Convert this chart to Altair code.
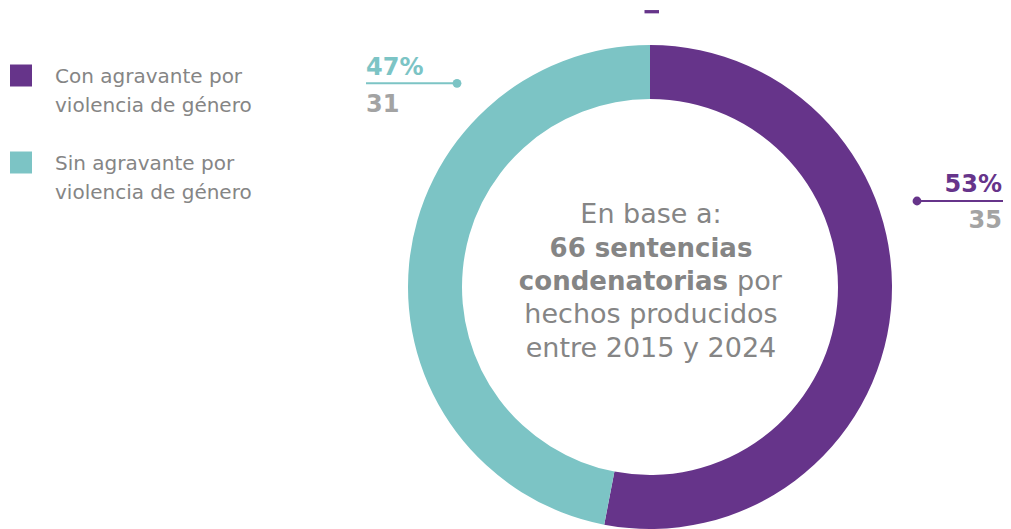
import altair as alt
import pandas as pd

# ---- data ----
categories = ["Con agravante por violencia de género", "Sin agravante por violencia de género"]
legend_labels = ["Con agravante por\nviolencia de género", "Sin agravante por\nviolencia de género"]
counts = [35, 31]
percent_labels = ["53%", "47%"]
colors = ["#66348a", "#7cc4c5"]
center_lines = ["En base a:", "66 sentencias", "condenatorias", "por",
                "hechos producidos", "entre 2015 y 2024"]

FONT = "DejaVu Sans"
GRAY = "#858585"
LIGHT = "#a3a3a3"
W, H = 995, 521
CX, CY = 642, 279

df = pd.DataFrame({"cat": categories, "count": counts, "order": [0, 1]})
color_scale = alt.Scale(domain=categories, range=colors)

donut = alt.Chart(df).mark_arc(outerRadius=242, innerRadius=188, stroke=None).encode(
    theta=alt.Theta("count:Q", stack=True),
    color=alt.Color("cat:N", scale=color_scale, legend=None),
    order=alt.Order("order:Q"),
    x=alt.value(CX),
    y=alt.value(CY),
)

# ---- legend (manual) ----
leg = pd.DataFrame({"cat": categories, "label": legend_labels, "row": [0, 1]})
ly = alt.Y("row:Q", scale=alt.Scale(domain=[0, 1], range=[67.5, 154.5], nice=False, zero=False), axis=None)
leg_sq = alt.Chart(leg).mark_square(size=484, opacity=1).encode(
    x=alt.value(13), y=ly,
    color=alt.Color("cat:N", scale=color_scale, legend=None),
)
leg_tx = alt.Chart(leg).mark_text(
    align="left", baseline="alphabetic", dy=7.5, fontSize=20, lineHeight=29,
    font=FONT, color=GRAY, lineBreak="\n",
).encode(x=alt.value(47), y=ly, text="label:N")

one = pd.DataFrame({"a": [0]})

def txt(s, x, y, size, weight="normal", color=GRAY, align="center"):
    return alt.Chart(one).mark_text(
        text=s, align=align, baseline="alphabetic", fontSize=size,
        fontWeight=weight, font=FONT, color=color,
    ).encode(x=alt.value(x), y=alt.value(y))

center = [
    txt(center_lines[0], 643, 215.3, 27),
    txt(center_lines[1], 643, 248.7, 26, "bold"),
    txt(center_lines[2], 720, 282, 26, "bold", align="right"),
    txt(center_lines[3], 729, 282, 27, align="left"),
    txt(center_lines[4], 643, 315.3, 27),
    txt(center_lines[5], 643, 348.7, 27),
]

# ---- callouts ----
def rule(x1, x2, y, color, width=2):
    return alt.Chart(one).mark_rule(color=color, strokeWidth=width).encode(
        x=alt.value(x1), x2=alt.value(x2), y=alt.value(y))

def dot(x, y, color):
    return alt.Chart(one).mark_point(filled=True, size=78, color=color, opacity=1).encode(
        x=alt.value(x), y=alt.value(y))

callouts = [
    txt(percent_labels[1], 358, 67, 24, "bold", colors[1], "left"),
    rule(358, 449, 75.3, colors[1]),
    dot(449, 75.3, colors[1]),
    txt(str(counts[1]), 358, 103.7, 24, "bold", LIGHT, "left"),
    txt(percent_labels[0], 994, 183.7, 24, "bold", colors[0], "right"),
    rule(909, 995, 193, colors[0]),
    dot(909, 193, colors[0]),
    txt(str(counts[0]), 994, 220.3, 24, "bold", LIGHT, "right"),
    rule(636.5, 651, 3.7, colors[0], 3.3),
]

chart = alt.layer(donut, leg_sq, leg_tx, *center, *callouts).properties(
    width=W, height=H, autosize=alt.AutoSizeParams(type="none"), padding=0,
).configure_view(stroke=None)

chart.save("out.html", embed_options={"renderer": "svg", "actions": False})
